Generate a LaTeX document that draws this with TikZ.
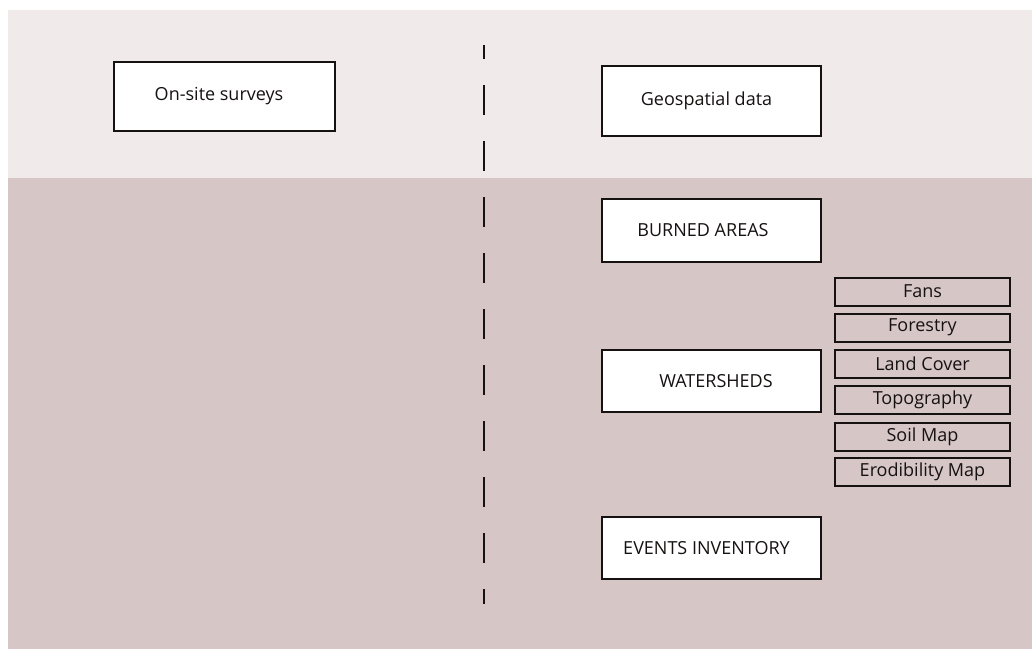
\documentclass[tikz,border=0pt]{standalone}
\usepackage{fontspec}
\setmainfont{Open Sans}
\definecolor{bandtop}{RGB}{240,234,234}
\definecolor{bandlow}{RGB}{214,198,198}
\definecolor{ink}{RGB}{22,18,18}
\begin{document}
\begin{tikzpicture}[x=1pt,y=-1pt,
  mainbox/.style={draw=ink,line width=2pt,fill=white,inner sep=0pt,font=\fontsize{18}{21}\selectfont,text=ink},
  subbox/.style={draw=ink,line width=2pt,inner sep=0pt,minimum width=175pt,minimum height=28pt,font=\fontsize{18}{21}\selectfont,text=ink}]
\useasboundingbox (0,0) rectangle (1032,649);
\fill[white] (0,0) rectangle (1032,649);
\fill[bandtop] (8,10) rectangle (1032,178);
\fill[bandlow] (8,178) rectangle (1032,649);
\node[mainbox,minimum width=221pt,minimum height=69pt] (onsite) at (224.5,96.5) {On-site surveys\hspace*{11pt}};
\node[mainbox,minimum width=219pt,minimum height=70pt] (geo) at (711.5,101) {Geospatial data\hspace*{10pt}};
\node[mainbox,minimum width=219pt,minimum height=63pt] (burned) at (711.5,230.5) {BURNED AREAS\hspace*{17pt}};
\node[mainbox,minimum width=219pt,minimum height=62pt] (water) at (711.5,381) {\hspace*{9pt}WATERSHEDS};
\node[mainbox,minimum width=219pt,minimum height=62pt] (events) at (711.5,548) {EVENTS INVENTORY\hspace*{10pt}};
\node[subbox] (fans) at (922.5,291.5) {Fans};
\node[subbox] (forestry) at (922.5,327.5) {Forestry};
\node[subbox] (landcover) at (922.5,363.5) {Land Cover};
\node[subbox] (topo) at (922.5,400) {Topography};
\node[subbox] (soil) at (922.5,437) {Soil Map};
\node[subbox] (erod) at (922.5,471.5) {Erodibility Map};
\coordinate (divtop) at (484,45);
\coordinate (divbot) at (484,604);
\draw[ink,line width=2pt,dash pattern=on 30pt off 26pt,dash phase=16pt] (divtop) -- (divbot);
\end{tikzpicture}
\end{document}
